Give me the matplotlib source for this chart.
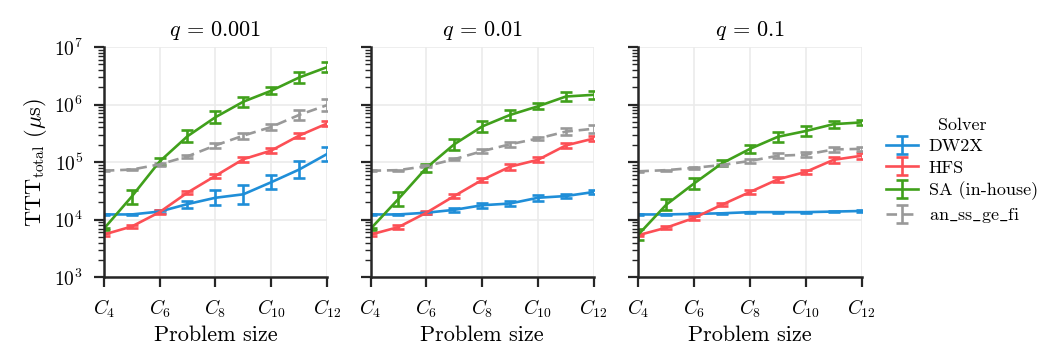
import numpy as np
import matplotlib
matplotlib.use('Agg')
import matplotlib.pyplot as plt
from matplotlib.ticker import LogLocator, NullFormatter

plt.rcParams['font.family'] = ['cmr10', 'DejaVu Serif']
plt.rcParams['mathtext.fontset'] = 'cm'
plt.rcParams['axes.formatter.use_mathtext'] = True

sizes = np.arange(4, 13)
q_values = ['0.001', '0.01', '0.1']
legend_names = ['DW2X', 'HFS', 'SA (in-house)', r'an$\_$ss$\_$ge$\_$fi']
colors = ['#1f8ed8', '#fc4f55', '#40a01b', '#999999']

# log10 of TTT (us), per q panel, per solver
log_ttt = {
    '0.001': [
        [4.09, 4.09, 4.14, 4.27, 4.38, 4.44, 4.65, 4.87, 5.14],
        [3.74, 3.88, 4.13, 4.47, 4.76, 5.05, 5.20, 5.46, 5.67],
        [3.84, 4.40, 5.01, 5.45, 5.78, 6.05, 6.24, 6.47, 6.65],
        [4.85, 4.87, 4.96, 5.10, 5.29, 5.46, 5.61, 5.82, 5.99],
    ],
    '0.01': [
        [4.09, 4.09, 4.12, 4.17, 4.25, 4.28, 4.38, 4.41, 4.48],
        [3.74, 3.87, 4.12, 4.41, 4.69, 4.92, 5.04, 5.29, 5.41],
        [3.84, 4.36, 4.90, 5.31, 5.62, 5.82, 5.97, 6.14, 6.17],
        [4.85, 4.86, 4.93, 5.05, 5.19, 5.31, 5.41, 5.53, 5.58],
    ],
    '0.1': [
        [4.09, 4.09, 4.10, 4.11, 4.13, 4.13, 4.13, 4.14, 4.15],
        [3.73, 3.86, 4.03, 4.26, 4.48, 4.70, 4.83, 5.04, 5.11],
        [3.74, 4.26, 4.63, 4.98, 5.23, 5.44, 5.54, 5.66, 5.69],
        [4.84, 4.86, 4.90, 4.95, 5.02, 5.11, 5.13, 5.22, 5.23],
    ],
}

# half error bar height in decades
log_err = {
    '0.001': [
        [0.01, 0.01, 0.03, 0.06, 0.13, 0.17, 0.12, 0.15, 0.12],
        [0.02, 0.03, 0.03, 0.03, 0.04, 0.04, 0.04, 0.04, 0.05],
        [0.02, 0.12, 0.06, 0.10, 0.10, 0.09, 0.06, 0.09, 0.09],
        [0.01, 0.01, 0.02, 0.03, 0.05, 0.05, 0.05, 0.08, 0.10],
    ],
    '0.01': [
        [0.01, 0.01, 0.02, 0.03, 0.04, 0.05, 0.05, 0.04, 0.04],
        [0.02, 0.03, 0.03, 0.04, 0.04, 0.05, 0.04, 0.05, 0.05],
        [0.02, 0.12, 0.07, 0.10, 0.10, 0.09, 0.05, 0.07, 0.07],
        [0.01, 0.01, 0.02, 0.02, 0.04, 0.04, 0.03, 0.06, 0.07],
    ],
    '0.1': [
        [0.01, 0.01, 0.01, 0.01, 0.01, 0.01, 0.01, 0.01, 0.01],
        [0.02, 0.03, 0.03, 0.03, 0.04, 0.04, 0.04, 0.05, 0.05],
        [0.10, 0.09, 0.10, 0.05, 0.07, 0.09, 0.09, 0.06, 0.05],
        [0.01, 0.01, 0.02, 0.02, 0.03, 0.04, 0.04, 0.04, 0.04],
    ],
}

fig = plt.figure(figsize=(10.38, 3.46), dpi=100)
lefts = [0.100, 0.357, 0.615]
axes = [fig.add_axes([l, 0.199, 0.215, 0.665]) for l in lefts]

handles = []
for ax, q in zip(axes, q_values):
    for i in range(len(legend_names)):
        lv = np.array(log_ttt[q][i])
        le = np.array(log_err[q][i])
        y = 10 ** lv
        yerr = [y - 10 ** (lv - le), 10 ** (lv + le) - y]
        h = ax.errorbar(sizes, y, yerr=yerr, color=colors[i], lw=1.9,
                        capsize=4, elinewidth=1.9, capthick=1.9)
        if i == 3:
            h[0].set_dashes((4, 2.2))
        if ax is axes[0]:
            handles.append(h)
    ax.set_yscale('log')
    ax.set_ylim(1e3, 1e7)
    ax.set_xlim(4, 12)
    ax.set_xticks([4, 6, 8, 10, 12])
    ax.set_xticklabels([r'$C_{%d}$' % k for k in [4, 6, 8, 10, 12]])
    ax.yaxis.set_major_locator(LogLocator(base=10, numticks=10))
    ax.yaxis.set_minor_locator(LogLocator(base=10, subs=np.arange(2, 10), numticks=10))
    ax.grid(True, which='major', color='#ebebeb', lw=1.2)
    ax.set_axisbelow(True)
    for s in ['top', 'right']:
        ax.spines[s].set_visible(False)
    for s in ['left', 'bottom']:
        ax.spines[s].set_linewidth(1.8)
        ax.spines[s].set_color('#262626')
    ax.tick_params(which='major', length=7, width=1.6, color='#262626',
                   labelsize=14, pad=8)
    ax.tick_params(which='minor', length=4, width=1.0, color='#262626')
    ax.set_title(r'$q\,=\,%s$' % q, fontsize=16, pad=8)
    ax.set_xlabel('Problem size', fontsize=16, labelpad=4)
    if ax is not axes[0]:
        ax.yaxis.set_major_formatter(NullFormatter())
    ax.yaxis.set_minor_formatter(NullFormatter())

axes[0].set_ylabel(r'TTT$_{\mathrm{total}}$ ($\mu$s)', fontsize=16)

leg = fig.legend(handles, legend_names, title='Solver', loc='center left',
                 bbox_to_anchor=(0.838, 0.505), frameon=False, fontsize=13,
                 title_fontsize=13, handlelength=1.78, labelspacing=0.32,
                 handletextpad=0.58)

fig.savefig('out.png', dpi=100)
